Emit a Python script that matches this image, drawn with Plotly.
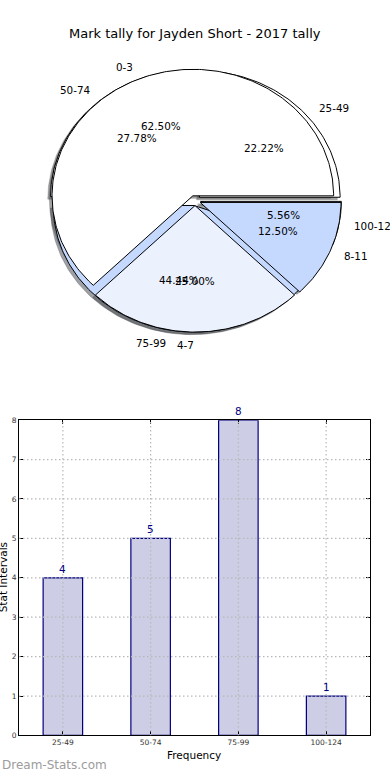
import numpy as np
import plotly.graph_objects as go

# ---------------- data ----------------
chart_title = "Mark tally for Jayden Short - 2017 tally"
pie_a_labels = ["0-3", "4-7", "8-11"]
pie_a_values = [5, 2, 1]
pie_b_labels = ["25-49", "50-74", "75-99", "100-124"]
pie_b_values = [4, 5, 8, 1]
bar_categories = ["25-49", "50-74", "75-99", "100-124"]
bar_values = [4, 5, 8, 1]
bar_y_ticks = [0, 1, 2, 3, 4, 5, 6, 7, 8]
x_title = "Frequency"
y_title = "Stat Intervals"
watermark = "Dream-Stats.com"

# ---------------- style ----------------
W, H = 390, 780
slice_colors = [(255, 255, 255), (235, 241, 253), (197, 217, 255)]
EXPLODE = 0.04
LABEL_DIST = 1.1
PCT_DIST = 0.6
FONT = "DejaVu Sans"


def px_x(p):
    return p / W


def px_y(p):
    return 1 - p / H


def pie_geometry(values):
    total = float(sum(values))
    t1 = 0.0
    res = []
    for v in values:
        frac = v / total
        t2 = t1 + frac
        thetam = 2 * np.pi * 0.5 * (t1 + t2)
        cx = EXPLODE * np.cos(thetam)
        cy = EXPLODE * np.sin(thetam)
        n = max(int(400 * frac), 3) + 1
        ang = np.linspace(2 * np.pi * t1, 2 * np.pi * t2, n)
        xs = np.concatenate([[cx], cx + np.cos(ang), [cx]])
        ys = np.concatenate([[cy], cy + np.sin(ang), [cy]])
        res.append(dict(xs=xs, ys=ys, cx=cx, cy=cy, thetam=thetam, frac=frac))
        t1 = t2
    return res


fig = go.Figure()

geo_b = pie_geometry(pie_b_values)
geo_a = pie_geometry(pie_a_values)

# shadows (drawn below all wedges)
for geo in (geo_b, geo_a):
    for i, g in enumerate(geo):
        r, gg, b = slice_colors[i % 3]
        col = "rgba(%d,%d,%d,0.5)" % (0.3 * r, 0.3 * gg, 0.3 * b)
        fig.add_trace(go.Scatter(
            x=g["xs"] - 0.02, y=g["ys"] - 0.02, mode="lines", fill="toself",
            fillcolor=col, line=dict(color=col, width=0.5),
            hoverinfo="skip", showlegend=False, xaxis="x", yaxis="y"))

# wedges
for geo in (geo_b, geo_a):
    for i, g in enumerate(geo):
        r, gg, b = slice_colors[i % 3]
        fig.add_trace(go.Scatter(
            x=g["xs"], y=g["ys"], mode="lines", fill="toself",
            fillcolor="rgb(%d,%d,%d)" % (r, gg, b),
            line=dict(color="black", width=1),
            hoverinfo="skip", showlegend=False, xaxis="x", yaxis="y"))

annotations = []
for geo, labels in ((geo_b, pie_b_labels), (geo_a, pie_a_labels)):
    for g, lab in zip(geo, labels):
        xt = g["cx"] + LABEL_DIST * np.cos(g["thetam"])
        yt = g["cy"] + LABEL_DIST * np.sin(g["thetam"])
        annotations.append(dict(
            x=xt, y=yt, xref="x", yref="y", text=lab, showarrow=False,
            xanchor="left" if xt > 0 else "right", yanchor="middle",
            font=dict(family=FONT, size=10.4, color="black"), borderpad=0))
        xp = g["cx"] + PCT_DIST * np.cos(g["thetam"])
        yp = g["cy"] + PCT_DIST * np.sin(g["thetam"])
        annotations.append(dict(
            x=xp, y=yp, xref="x", yref="y", text="%.2f%%" % (100 * g["frac"]),
            showarrow=False, xanchor="center", yanchor="middle",
            font=dict(family=FONT, size=10.4, color="black"), borderpad=0))

# ---------------- bar chart ----------------
idx = list(range(len(bar_categories)))
fig.add_trace(go.Bar(
    x=idx, y=bar_values, width=0.45, xaxis="x2", yaxis="y2",
    marker=dict(color="#cdcde6", line=dict(color="#000080", width=1.2)),
    hoverinfo="skip", showlegend=False))

for i, v in zip(idx, bar_values):
    annotations.append(dict(
        x=i, y=v, xref="x2", yref="y2", text=str(v), showarrow=False,
        yanchor="bottom", yshift=1, font=dict(family=FONT, size=10.4, color="#000080")))

shapes = []
grid_line = dict(color="#b8b8b8", width=1.2, dash="1.5px,2.5px")
for t in bar_y_ticks[1:-1]:
    shapes.append(dict(type="line", xref="x2", yref="y2", x0=-0.5, x1=3.5, y0=t, y1=t,
                       line=grid_line, layer="above"))
for i in idx:
    shapes.append(dict(type="line", xref="x2", yref="y2", x0=i, x1=i, y0=0, y1=8,
                       line=grid_line, layer="above"))

# titles
annotations.append(dict(x=0.5, y=px_y(30), xref="paper", yref="paper", text=chart_title,
                        showarrow=False, xanchor="center", yanchor="middle",
                        font=dict(family=FONT, size=13, color="black")))
annotations.append(dict(x=px_x(194), y=px_y(760), xref="paper", yref="paper", text=x_title,
                        showarrow=False, xanchor="center", yanchor="middle",
                        font=dict(family=FONT, size=10.5, color="black")))
annotations.append(dict(x=px_x(3), y=px_y(580), xref="paper", yref="paper", text=y_title,
                        showarrow=False, xanchor="center", yanchor="middle", textangle=-90,
                        font=dict(family=FONT, size=10.5, color="black")))
annotations.append(dict(x=0, y=px_y(770), xref="paper", yref="paper", text=watermark,
                        showarrow=False, xanchor="left", yanchor="middle",
                        font=dict(family=FONT, size=12, color="#9c9c9c")))

# pie axes: 140.8 px per unit in x, 128 px per unit in y, centre at (195, 198.8)
sx, sy, pcx, pcy = 140.8, 128.0, 195.0, 198.8
pie_bottom_px = 400
fig.update_layout(
    width=W, height=H, margin=dict(l=0, r=0, t=0, b=0),
    paper_bgcolor="white", plot_bgcolor="white",
    xaxis=dict(domain=[0, 1], range=[-pcx / sx, (W - pcx) / sx], visible=False,
               fixedrange=True),
    yaxis=dict(domain=[px_y(pie_bottom_px), 1],
               range=[(pcy - pie_bottom_px) / sy, pcy / sy], visible=False, fixedrange=True),
    xaxis2=dict(domain=[px_x(19), px_x(370)], range=[-0.5, 3.5], anchor="y2",
                tickvals=idx, ticktext=bar_categories, ticks="inside", ticklen=4,
                tickcolor="black", showline=True, linecolor="black", linewidth=1,
                mirror="ticks", showgrid=False, zeroline=False,
                tickfont=dict(family=FONT, size=7.5, color="#333333")),
    yaxis2=dict(domain=[px_y(740), px_y(421)], range=[0, 8], anchor="x2",
                tickvals=bar_y_ticks, ticks="inside", ticklen=4, tickcolor="black",
                showline=True, linecolor="black", linewidth=1, mirror="ticks",
                showgrid=False, zeroline=False,
                tickfont=dict(family=FONT, size=7.5, color="#333333")),
    annotations=annotations, shapes=shapes, showlegend=False,
)

fig.write_html(
    "out.html",
    config={"displayModeBar": False},
    post_script="document.body.style.margin='0';document.body.style.overflow='hidden';",
)
